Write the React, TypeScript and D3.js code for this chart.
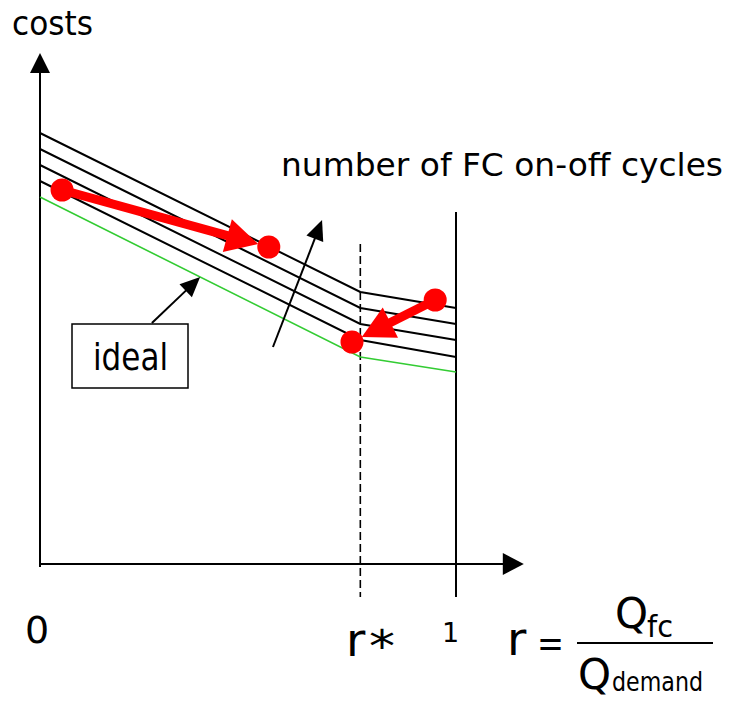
import React from "react";
import * as d3 from "d3";

// ---- data ----
const rValues = [0, 0.77, 1]; // r = 0, r*, 1
const cycleCurves = [
  [86.2, 54.4, 51.2],
  [83.0, 51.2, 48.0],
  [79.8, 48.0, 44.8],
  [76.6, 44.8, 41.4],
];
const idealCurve = [73.4, 41.4, 38.4];
const moveStarts: [number, number][] = [
  [0.053, 74.8],
  [0.95, 52.8],
];
const moveEnds: [number, number][] = [
  [0.55, 63.4],
  [0.75, 44.4],
];
const cyclesArrow: [number, number][] = [
  [0.56, 43.4],
  [0.678, 68.8],
];
const idealArrow: [number, number][] = [
  [0.269, 48.2],
  [0.385, 57.4],
];
const rStar = 0.77;
const rOne = 1;
const rStarTop = 64;
const rOneTop = 70.4;
const guideBottom = -6.6;
const yAxisTop = 102.2;
const xAxisEnd = 1.163;

const W = 731;
const H = 701;
const FONT = "'DejaVu Sans', Verdana, sans-serif";

function arrowParts(
  x1: number,
  y1: number,
  x2: number,
  y2: number,
  headLen: number,
  headHalf: number,
  tipInset = 0
) {
  const dx = x2 - x1;
  const dy = y2 - y1;
  const len = Math.hypot(dx, dy);
  const ux = dx / len;
  const uy = dy / len;
  const tx = x2 - ux * tipInset;
  const ty = y2 - uy * tipInset;
  const bx = tx - ux * headLen;
  const by = ty - uy * headLen;
  const px = -uy;
  const py = ux;
  const head = `M${tx},${ty}L${bx + px * headHalf},${by + py * headHalf}L${
    bx - px * headHalf
  },${by - py * headHalf}Z`;
  return { line: { x1, y1, x2: bx + ux * 1, y2: by + uy * 1 }, head };
}

export default function App() {
  const x = d3.scaleLinear().domain([0, 1]).range([40, 456]);
  const y = d3.scaleLinear().domain([0, 100]).range([564, 64]);

  const line = d3
    .line<number>()
    .x((_, i) => x(rValues[i]))
    .y((d) => y(d));

  const x0 = x(0);
  const y0 = y(0);

  const redArrows = moveStarts.map((s, i) => {
    const e = moveEnds[i];
    return {
      s: [x(s[0]), y(s[1])],
      e: [x(e[0]), y(e[1])],
      parts: arrowParts(x(s[0]), y(s[1]), x(e[0]), y(e[1]), 32, 17, 11),
    };
  });

  const cyc = arrowParts(
    x(cyclesArrow[0][0]),
    y(cyclesArrow[0][1]),
    x(cyclesArrow[1][0]),
    y(cyclesArrow[1][1]),
    20,
    9
  );
  const idl = arrowParts(
    x(idealArrow[0][0]),
    y(idealArrow[0][1]),
    x(idealArrow[1][0]),
    y(idealArrow[1][1]),
    20,
    9
  );

  return (
    <svg
      width={W}
      height={H}
      style={{ position: "absolute", left: 0, top: 0, background: "#fff" }}
      fontFamily={FONT}
    >
      <rect width={W} height={H} fill="#fff" />

      {/* axes */}
      <line x1={x0} y1={y0 + 3} x2={x0} y2={y(yAxisTop) + 18} stroke="#000" strokeWidth={2} />
      <path
        d={`M${x0},${y(yAxisTop)}L${x0 - 10},${y(yAxisTop) + 20}L${x0 + 10},${y(yAxisTop) + 20}Z`}
        fill="#000"
      />
      <line x1={x0 - 1} y1={y0} x2={x(xAxisEnd) - 19} y2={y0} stroke="#000" strokeWidth={2} />
      <path
        d={`M${x(xAxisEnd)},${y0}L${x(xAxisEnd) - 21},${y0 - 11}L${x(xAxisEnd) - 21},${y0 + 11}Z`}
        fill="#000"
      />

      {/* guides */}
      <line
        x1={x(rStar)}
        y1={y(rStarTop)}
        x2={x(rStar)}
        y2={y(guideBottom)}
        stroke="#000"
        strokeWidth={1.6}
        strokeDasharray="8,4"
      />
      <line
        x1={x(rOne)}
        y1={y(rOneTop)}
        x2={x(rOne)}
        y2={y(guideBottom)}
        stroke="#000"
        strokeWidth={2}
      />

      {/* curves */}
      {cycleCurves.map((c, i) => (
        <path key={i} d={line(c) || ""} fill="none" stroke="#000" strokeWidth={2} />
      ))}
      <path d={line(idealCurve) || ""} fill="none" stroke="#33cc33" strokeWidth={1.6} />

      {/* cycles arrow */}
      <line {...cyc.line} stroke="#000" strokeWidth={2} />
      <path d={cyc.head} fill="#000" />

      {/* ideal arrow + box */}
      <line {...idl.line} stroke="#000" strokeWidth={2} />
      <path d={idl.head} fill="#000" />
      <rect x={72} y={324} width={116} height={64} fill="#fff" stroke="#000" strokeWidth={1.5} />
      <text x={93} y={370} fontSize={38} textLength={75} lengthAdjust="spacingAndGlyphs">
        ideal
      </text>

      {/* red moves */}
      {redArrows.map((a, i) => (
        <g key={i}>
          <line {...a.parts.line} stroke="#ff0000" strokeWidth={9} />
          <path d={a.parts.head} fill="#ff0000" />
          <circle cx={a.s[0]} cy={a.s[1]} r={11.5} fill="#ff0000" />
          <circle cx={a.e[0]} cy={a.e[1]} r={11.5} fill="#ff0000" />
        </g>
      ))}

      {/* texts */}
      <text x={12} y={35} fontSize={34} textLength={81} lengthAdjust="spacingAndGlyphs">
        costs
      </text>
      <text x={281} y={176} fontSize={32} textLength={442} lengthAdjust="spacingAndGlyphs">
        number of FC on-off cycles
      </text>
      <text x={25} y={643} fontSize={38}>
        0
      </text>
      <text x={346} y={656} fontSize={47}>
        r
      </text>
      <text x={369} y={662} fontSize={44} textLength={26} lengthAdjust="spacingAndGlyphs">
        *
      </text>
      <text x={442} y={642} fontSize={27}>
        1
      </text>
      <text x={507} y={655} fontSize={47}>
        r
      </text>
      <text x={537} y={656} fontSize={38} textLength={27} lengthAdjust="spacingAndGlyphs">
        =
      </text>
      <line x1={577} y1={643} x2={713} y2={643} stroke="#000" strokeWidth={2} />
      <text x={615} y={628} fontSize={42}>
        Q
      </text>
      <text x={647} y={637} fontSize={30} textLength={26} lengthAdjust="spacingAndGlyphs">
        fc
      </text>
      <text x={578} y={689} fontSize={42}>
        Q
      </text>
      <text x={612} y={691} fontSize={27} textLength={91} lengthAdjust="spacingAndGlyphs">
        demand
      </text>
    </svg>
  );
}
